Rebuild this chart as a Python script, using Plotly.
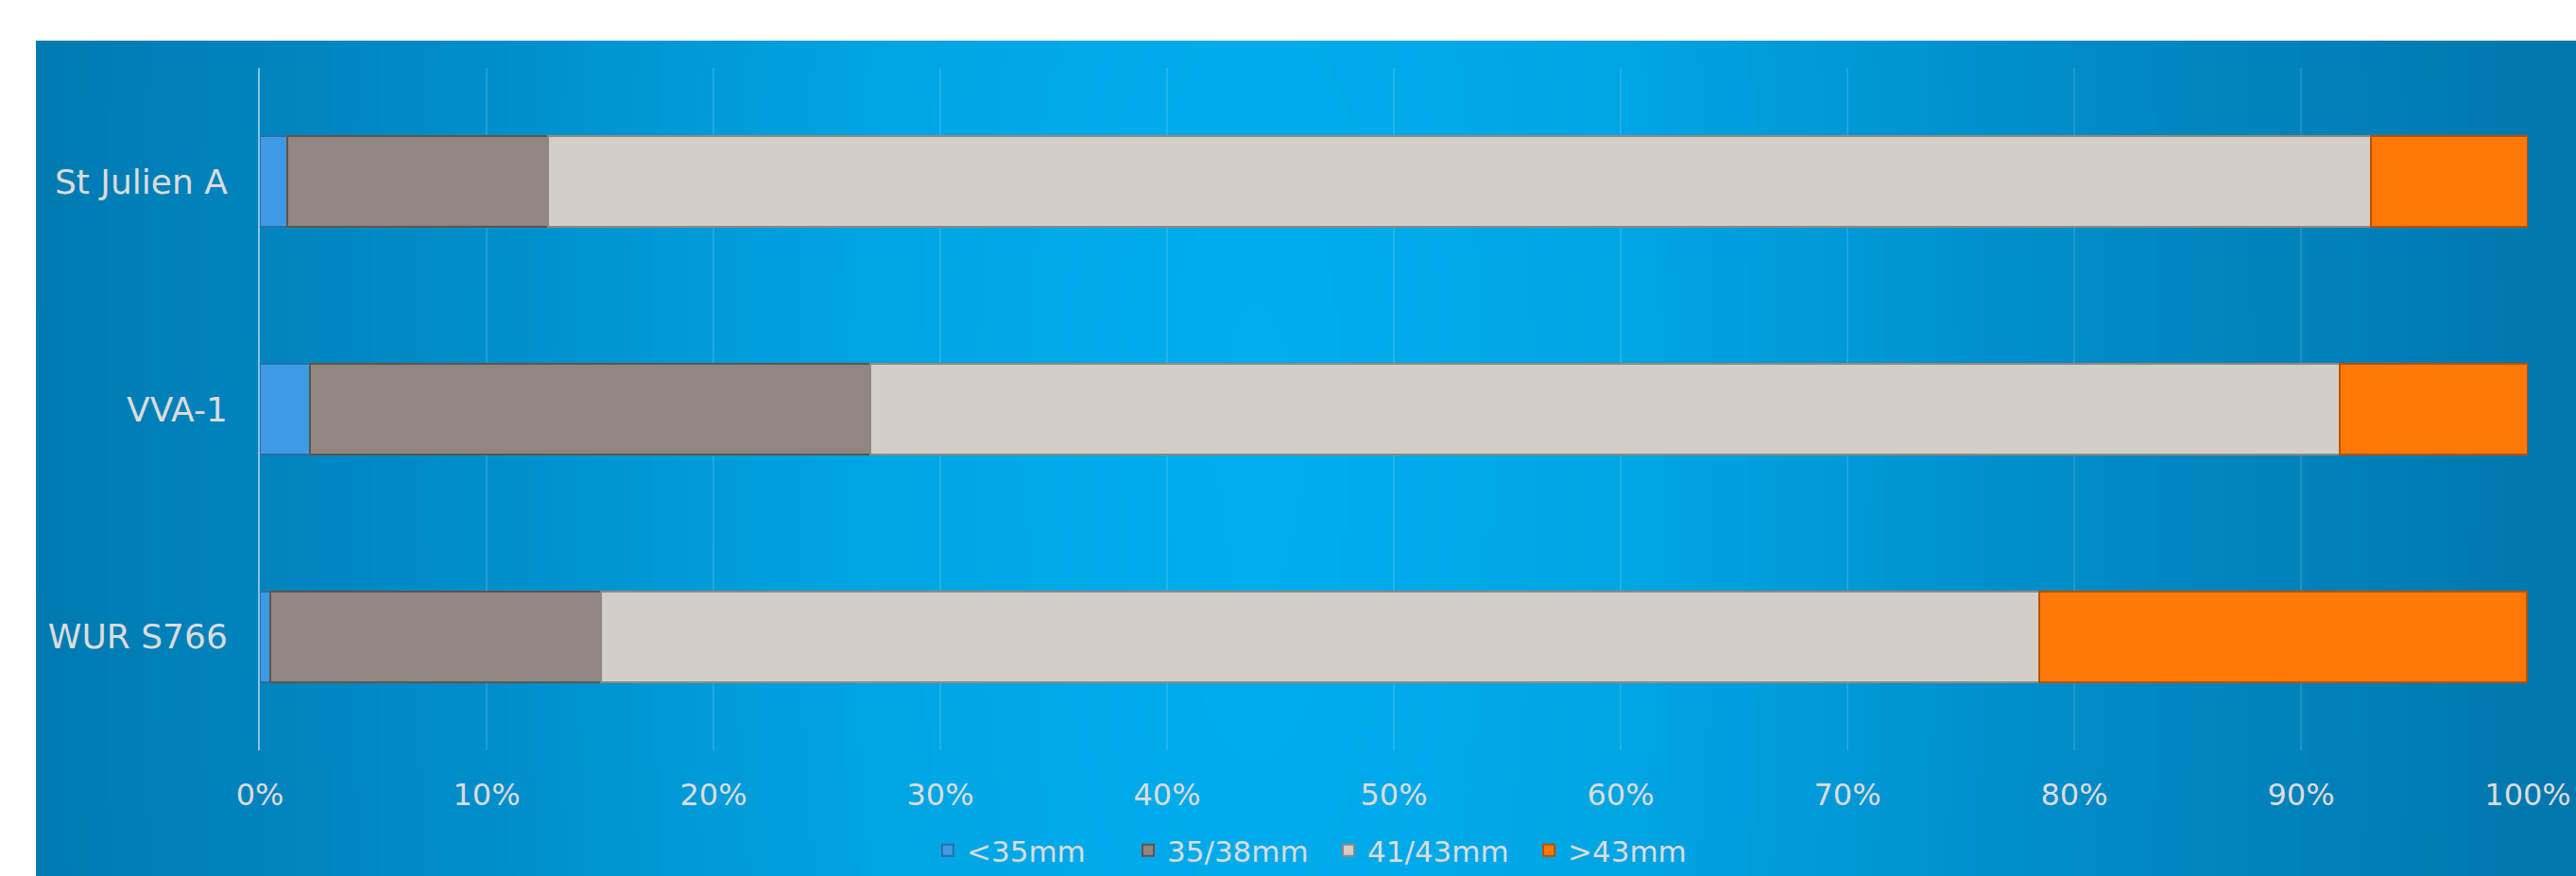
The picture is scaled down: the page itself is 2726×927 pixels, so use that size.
import zlib, struct, base64
import numpy as np
import plotly.graph_objects as go

# ---------------- data ----------------
categories = ["St Julien A", "VVA-1", "WUR S766"]
series_names = ["<35mm", "35/38mm", "41/43mm", ">43mm"]
lt35 = [1.2, 2.2, 0.45]
s35_38 = [11.5, 24.7, 14.6]
s41_43 = [80.4, 64.8, 63.4]
gt43 = [6.9, 8.3, 21.5]
tick_vals = [0, 10, 20, 30, 40, 50, 60, 70, 80, 90, 100]
tick_text = ["0%", "10%", "20%", "30%", "40%", "50%", "60%", "70%", "80%", "90%", "100%"]

series_values = [lt35, s35_38, s41_43, gt43]
fill_colors = ["#3C9BE4", "#918780", "#D3CFC6", "#FF7808"]
line_colors = ["#2A6FA8", "#5E5550", "#8E8A82", "#B85200"]

W, H = 2726, 927
L, R, T, B = 275, 51, 72, 133
plot_w = W - L - R
plot_h = H - T - B

# ---------------- background gradient (chart area) ----------------
cx0, cy0, cx1, cy1 = 38, 43, W, H  # chart area in pixels
iw, ih = 336, 111
xs = np.linspace(cx0, cx1, iw)
ys = np.linspace(cy0, cy1, ih)
X, Y = np.meshgrid(xs, ys)
ccx, ccy = 1330, 480
D = np.sqrt((X - ccx) ** 2 + (0.3 * (Y - ccy)) ** 2)
stops_d = [0, 400, 650, 1000, 1150, 1400]
stops_c = ["#00AEEF", "#00A6E4", "#0098D6", "#0086C0", "#0081BA", "#0077AC"]
rgb = np.array([[int(c[i:i + 2], 16) for i in (1, 3, 5)] for c in stops_c], dtype=float)
img = np.zeros((ih, iw, 3), dtype=np.uint8)
for ch in range(3):
    img[:, :, ch] = np.clip(np.interp(D, stops_d, rgb[:, ch]), 0, 255).astype(np.uint8)


def png_uri(arr):
    h, w, _ = arr.shape
    raw = b"".join(b"\x00" + arr[i].tobytes() for i in range(h))

    def chunk(t, d):
        c = struct.pack(">I", len(d)) + t + d
        return c + struct.pack(">I", zlib.crc32(t + d) & 0xFFFFFFFF)

    png = (b"\x89PNG\r\n\x1a\n"
           + chunk(b"IHDR", struct.pack(">IIBBBBB", w, h, 8, 2, 0, 0, 0))
           + chunk(b"IDAT", zlib.compress(raw, 9))
           + chunk(b"IEND", b""))
    return "data:image/png;base64," + base64.b64encode(png).decode()


bg_uri = png_uri(img)

# ---------------- figure ----------------
fig = go.Figure()
for name, vals, fc, lc in zip(series_names, series_values, fill_colors, line_colors):
    fig.add_trace(go.Bar(
        name=name, y=categories, x=vals, orientation="h",
        marker=dict(color=fc, line=dict(color=lc, width=2)),
        hoverinfo="skip",
    ))

txt = "#DCDCDC"
font_family = "DejaVu Sans, Verdana, sans-serif"

fig.update_layout(
    width=W, height=H,
    margin=dict(l=L, r=R, t=T, b=B, pad=0, autoexpand=False),
    paper_bgcolor="white",
    plot_bgcolor="rgba(0,0,0,0)",
    barmode="stack",
    bargap=0.6,
    font=dict(family=font_family, color=txt, size=33),
    showlegend=True,
    legend=dict(
        orientation="h", traceorder="normal",
        x=(1407 - L) / plot_w, xanchor="center",
        yref="container", y=(H - 900) / H, yanchor="middle",
        font=dict(size=31, color=txt, family=font_family),
        bgcolor="rgba(0,0,0,0)",
        entrywidth=167, entrywidthmode="pixels",
    ),
    images=[dict(
        source=bg_uri, xref="paper", yref="paper",
        x=(cx0 - L) / plot_w, y=(H - B - cy0) / plot_h,
        sizex=(cx1 - cx0) / plot_w, sizey=(cy1 - cy0) / plot_h,
        xanchor="left", yanchor="top", sizing="stretch", layer="below",
    )],
)

fig.update_xaxes(
    range=[0, 100], tickvals=tick_vals, ticktext=tick_text,
    showgrid=True, gridcolor="rgba(255,255,255,0.13)", gridwidth=2,
    zeroline=False, showline=False, ticks="",
    tickfont=dict(size=32, color=txt, family=font_family),
    ticklabelstandoff=25, automargin=False,
    fixedrange=True,
)
fig.update_yaxes(
    categoryorder="array", categoryarray=categories, autorange="reversed",
    showgrid=False, zeroline=False,
    showline=True, linecolor="#86C3E3", linewidth=2,
    ticks="", ticklabelstandoff=25, automargin=False,
    tickfont=dict(size=36, color=txt, family=font_family),
    fixedrange=True,
)

fig.write_html(
    "out.html",
    config={"displayModeBar": False, "responsive": False},
    post_script="document.body.style.margin='0';document.body.style.overflow='hidden';",
)
